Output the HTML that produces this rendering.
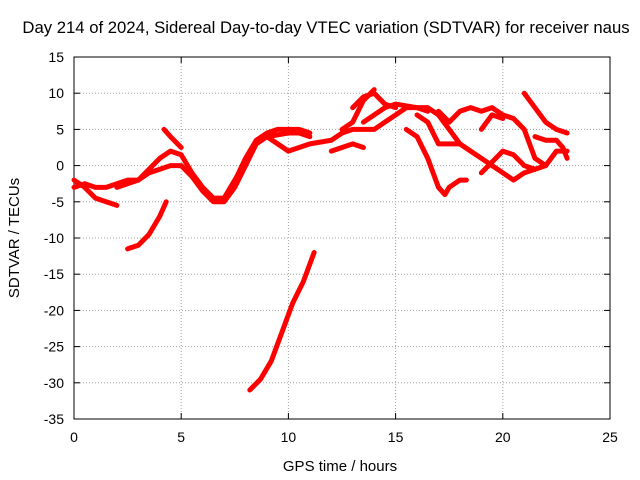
<!DOCTYPE html>
<html><head><meta charset="utf-8"><style>
body{margin:0;background:#fff;}
svg{display:block;font-family:"Liberation Sans",sans-serif;}
</style></head><body>
<svg id="c" width="640" height="480"></svg>
<script>
const xTicks=[0,5,10,15,20,25];
const yTicks=[15,10,5,0,-5,-10,-15,-20,-25,-30,-35];
const trackA=[[0,-3],[0.5,-2.5],[1,-3],[1.5,-3],[2,-2.5],[2.5,-2],[3,-2],[3.5,-1],[4,-0.5],[4.5,0],[5,0],[5.5,-1.5],[6,-3.5],[6.5,-5],[7,-5],[7.5,-3],[8,0],[8.5,3],[9,4],[10,4.5],[10.5,4.5],[11,4]];
const trackB=[[0,-2],[0.5,-3],[1,-4.5],[1.5,-5],[2,-5.5]];
const trackC=[[2,-3],[3,-2],[3.5,-0.5],[4,1],[4.5,2],[5,1.5],[5.5,-1],[6,-3],[6.5,-4.5],[7,-4.5],[7.5,-2],[7.8,-0.5]];
const trackD=[[4.2,5],[4.5,4],[5,2.5]];
const trackE=[[2.5,-11.5],[3,-11],[3.5,-9.5],[4,-7],[4.3,-5]];
const trackF=[[8.2,-31],[8.7,-29.5],[9.2,-27],[9.7,-23],[10.2,-19],[10.7,-16],[11.2,-12]];
const trackG=[[7.6,-1.5],[8,1],[8.5,3.5],[9,4.5],[9.5,5],[10,5],[10.5,5],[11,4.5]];
const trackH=[[9,4],[9.5,3],[10,2],[10.5,2.5],[11,3],[12,3.5],[12.5,4.5],[13,5],[14,5],[15,7],[15.5,8],[16,8],[16.5,7.5]];
const trackI=[[12,2],[12.5,2.5],[13,3],[13.5,2.5]];
const trackJ=[[13.5,6],[14,7],[14.5,8],[15,8.5],[16,8],[16.5,8],[17,7],[17.5,5],[18,3],[18.5,2],[19,1],[19.5,0],[20,-1],[20.5,-2],[21,-1],[21.5,-0.5],[22,0]];
const trackK=[[15.5,5],[16,4],[16.5,1],[17,-3],[17.3,-4],[17.5,-3],[18,-2],[18.3,-2]];
const trackL=[[16,7],[16.5,6],[17,3],[17.5,3],[18,3]];
const trackM=[[17,7.5],[17.5,6],[18,7.5],[18.5,8],[19,7.5],[19.5,8],[20,7],[20.5,6.5],[21,5],[21.5,1],[22,0],[22.5,2],[23,2]];
const trackN=[[19,-1],[19.5,0.5],[20,2],[20.5,1.5],[21,0],[21.5,-0.5]];
const trackO=[[21,10],[21.5,8],[22,6],[22.5,5],[23,4.5]];
const trackP=[[19,5],[19.5,7],[20,6.5]];
const trackQ=[[21.5,4],[22,3.5],[22.5,3.5],[22.8,2.5],[23,1]];
const trackR=[[13,8],[13.5,9.5],[14,10],[14.5,8.5],[15,8]];
const trackS=[[12.5,5],[13,6],[13.5,9],[14,10.5]];
const tracks=[trackA,trackB,trackC,trackD,trackE,trackF,trackG,trackH,trackI,trackJ,trackK,trackL,trackM,trackN,trackO,trackP,trackQ,trackR,trackS];

const L=74,R=610,T=57,B=419;
const sx=v=>L+(v-0)/25*(R-L);
const sy=v=>T+(15-v)/50*(B-T);
const svg=document.getElementById('c');
const NS='http://www.w3.org/2000/svg';
function mk(tag,attrs,txt){const e=document.createElementNS(NS,tag);for(const k in attrs)e.setAttribute(k,attrs[k]);if(txt!==undefined)e.textContent=txt;svg.appendChild(e);return e;}

xTicks.forEach(t=>{
  if(t>0&&t<25){const g=mk('line',{x1:sx(t),x2:sx(t),y1:T,y2:B,stroke:'#a0a0a0','stroke-dasharray':'1,2'});
  
  }
  const tx=mk('text',{x:sx(t),y:B+23,'text-anchor':'middle','font-size':'14'},String(t));
  
  
  mk('line',{x1:sx(t),x2:sx(t),y1:B,y2:B-6,stroke:'#000'});
  mk('line',{x1:sx(t),x2:sx(t),y1:T,y2:T+6,stroke:'#000'});
});
yTicks.forEach(t=>{
  if(t<15&&t>-35){const g=mk('line',{x1:L,x2:R,y1:sy(t),y2:sy(t),stroke:'#a0a0a0','stroke-dasharray':'1,2'});
  
  }
  const tx=mk('text',{x:L-10,y:sy(t)+5,'text-anchor':'end','font-size':'14'},String(t));
  
  
  mk('line',{x1:L,x2:L+6,y1:sy(t),y2:sy(t),stroke:'#000'});
  mk('line',{x1:R,x2:R-6,y1:sy(t),y2:sy(t),stroke:'#000'});
});
const fr=mk('rect',{x:L,y:T,width:R-L,height:B-T,fill:'none',stroke:'#000'});



tracks.forEach(tr=>{
  const p=mk('polyline',{points:tr.map(d=>sx(d[0])+','+sy(d[1])).join(' '),fill:'none',stroke:'#f00','stroke-width':'5','stroke-linejoin':'round','stroke-linecap':'round'});
  
  
});

const ti=mk('text',{x:326,y:33,'text-anchor':'middle','font-size':'16.7'},'Day 214 of 2024, Sidereal Day-to-day VTEC variation (SDTVAR) for receiver naus');


const xt=mk('text',{x:340,y:471,'text-anchor':'middle','font-size':'15'},'GPS time / hours');


const yt=mk('text',{x:0,y:0,'text-anchor':'middle','font-size':'15',transform:'translate(19,238) rotate(-90)'},'SDTVAR / TECUs');


</script>
</body></html>
